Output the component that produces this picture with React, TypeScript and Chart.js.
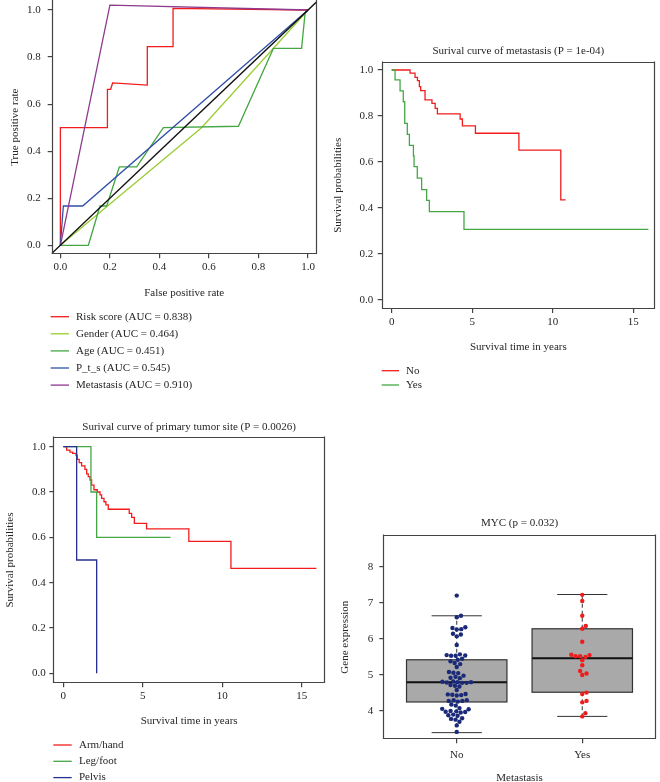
import React, { useEffect, useRef } from "react";
import { Chart, registerables } from "chart.js";

Chart.register(...registerables);

const FONT_FAMILY = "'Liberation Serif', 'DejaVu Serif', 'Times New Roman', serif";
const TEXT = "#262626";
const AXIS = "#444444";

// ---------- Panel A: ROC ----------
const rocTicks = [0, 0.2, 0.4, 0.6, 0.8, 1.0];
const riskFpr = [0, 0, 0.19, 0.19, 0.203, 0.211, 0.351, 0.351, 0.455, 0.455, 1.0];
const riskTpr = [0, 0.5, 0.5, 0.663, 0.663, 0.69, 0.681, 0.844, 0.844, 1.007, 1.0];
const genderFpr = [0, 0.57, 1.0];
const genderTpr = [0, 0.5, 1.0];
const ageFpr = [0, 0.113, 0.16, 0.187, 0.238, 0.308, 0.416, 0.719, 0.86, 0.974, 0.988, 1.0];
const ageTpr = [0, 0, 0.167, 0.167, 0.333, 0.333, 0.5, 0.506, 0.837, 0.837, 0.986, 1.0];
const ptsFpr = [0, 0.012, 0.09, 1.0];
const ptsTpr = [0, 0.167, 0.167, 1.0];
const metaFpr = [0, 0.2, 1.0];
const metaTpr = [0, 1.021, 1.0];
const diagX = [-0.1, 1.1];
const diagY = [-0.1, 1.1];
const rocLabels = [
  "Risk score (AUC = 0.838)",
  "Gender (AUC = 0.464)",
  "Age (AUC = 0.451)",
  "P_t_s (AUC = 0.545)",
  "Metastasis (AUC = 0.910)",
];

// ---------- Panel B: survival by metastasis ----------
const survTicksX = [0, 5, 10, 15];
const survTicksY = [0, 0.2, 0.4, 0.6, 0.8, 1.0];
const metNoTime = [0, 1.14, 1.45, 1.6, 1.72, 1.8, 2.07, 2.5, 2.7, 2.84, 4.25, 4.39, 5.2, 7.9, 10.5, 10.8];
const metNoSurv = [1.0, 0.986, 0.968, 0.954, 0.928, 0.91, 0.87, 0.855, 0.833, 0.809, 0.787, 0.757, 0.725, 0.652, 0.435, 0.435];
const metYesTime = [0, 0.21, 0.52, 0.72, 0.81, 0.97, 1.1, 1.35, 1.39, 1.59, 1.86, 2.17, 2.34, 4.49, 15.94];
const metYesSurv = [1.0, 0.957, 0.909, 0.862, 0.768, 0.72, 0.672, 0.626, 0.58, 0.53, 0.48, 0.433, 0.384, 0.307, 0.307];

// ---------- Panel C: survival by primary tumor site ----------
const armTime = [0, 0.21, 0.42, 0.59, 0.8, 0.88, 1.0, 1.15, 1.36, 1.47, 1.57, 1.68, 1.78, 1.93, 2.14, 2.31, 2.41, 2.56, 2.68, 2.83, 4.15, 4.3, 4.47, 5.24, 7.9, 10.55, 15.93];
const armSurv = [1.0, 0.985, 0.976, 0.97, 0.963, 0.944, 0.93, 0.915, 0.9, 0.88, 0.868, 0.853, 0.83, 0.81, 0.8, 0.787, 0.772, 0.757, 0.743, 0.724, 0.706, 0.688, 0.662, 0.637, 0.582, 0.463, 0.463];
const legTime = [0, 1.74, 2.1, 6.75];
const legSurv = [1.0, 0.8, 0.6, 0.6];
const pelvisTime = [0, 0.84, 2.1];
const pelvisSurv = [1.0, 0.5, 0.0];

// ---------- Panel D: MYC boxplot ----------
const groups = ["No", "Yes"];
const groupPositions = [1, 2];
const exprTicks = [4, 5, 6, 7, 8];
const noExpr = [7.2, 6.64, 6.6, 6.32, 6.3, 6.27, 6.26, 6.14, 6.12, 6.07, 5.83, 5.57, 5.55, 5.54, 5.53, 5.53, 5.45, 5.42, 5.38, 5.33, 5.3, 5.22, 5.08, 5.06, 5.05, 4.98, 4.95, 4.92, 4.91, 4.82, 4.81, 4.8, 4.8, 4.79, 4.78, 4.78, 4.72, 4.7, 4.68, 4.58, 4.47, 4.46, 4.45, 4.44, 4.43, 4.3, 4.3, 4.28, 4.28, 4.26, 4.18, 4.15, 4.08, 4.06, 4.05, 4.0, 3.99, 3.98, 3.97, 3.96, 3.9, 3.88, 3.87, 3.8, 3.78, 3.76, 3.7, 3.6, 3.42];
const yesExpr = [7.22, 7.05, 6.64, 6.36, 6.28, 5.92, 5.56, 5.55, 5.52, 5.52, 5.5, 5.41, 5.27, 5.11, 5.04, 5.0, 4.51, 4.47, 4.28, 4.24, 3.94, 3.85];
const boxQ1 = [4.25, 4.52];
const boxMedian = [4.8, 5.46];
const boxQ3 = [5.42, 6.28];
const whiskerLow = [3.4, 3.85];
const whiskerHigh = [6.64, 7.23];

// ---------- helpers ----------
const toXY = (xs: number[], ys: number[]) => xs.map((x, i) => ({ x, y: ys[i] }));

const font = (size = 11) => ({ family: FONT_FAMILY, size, weight: "normal" as const });

function swarmOffsets(values: number[], pxX: number, pxY: number, d: number): number[] {
  const idx = values.map((_, i) => i).sort((a, b) => values[a] - values[b]);
  const placed: { x: number; y: number }[] = [];
  const out = new Array(values.length).fill(0);
  for (const i of idx) {
    const y = values[i] * pxY;
    const cands = [0];
    for (const p of placed) {
      const dy = Math.abs(p.y - y);
      if (dy < d) {
        const dx = Math.sqrt(d * d - dy * dy);
        cands.push(p.x + dx, p.x - dx);
      }
    }
    cands.sort((a, b) => Math.abs(a) - Math.abs(b));
    let chosen = 0;
    for (const c of cands) {
      if (placed.every((p) => (p.x - c) ** 2 + (p.y - y) ** 2 >= d * d - 1e-6)) {
        chosen = c;
        break;
      }
    }
    placed.push({ x: chosen, y });
    out[i] = chosen / pxX;
  }
  return out;
}

const framePlugin = {
  id: "frame",
  afterDatasetsDraw(chart: any, _a: any, opts: any) {
    const { ctx, chartArea: a } = chart;
    const sides: string = opts.sides || "tlbr";
    const l = Math.round(a.left) + 0.5;
    const r = Math.round(a.right) - 0.5;
    const t = Math.round(a.top) + 0.5;
    const b = Math.round(a.bottom) - 0.5;
    ctx.save();
    ctx.strokeStyle = AXIS;
    ctx.lineWidth = 1.2;
    ctx.beginPath();
    if (sides.includes("t")) { ctx.moveTo(l, t); ctx.lineTo(r, t); }
    if (sides.includes("b")) { ctx.moveTo(l, b); ctx.lineTo(r, b); }
    if (sides.includes("l")) { ctx.moveTo(l, t - 1); ctx.lineTo(l, b + 0.6); }
    if (sides.includes("r")) { ctx.moveTo(r, t - 1); ctx.lineTo(r, b + 0.6); }
    ctx.stroke();
    ctx.restore();
  },
};

const legendPlugin = {
  id: "lineLegend",
  afterDraw(chart: any, _a: any, opts: any) {
    if (!opts || !opts.display) return;
    const ctx = chart.ctx;
    ctx.save();
    ctx.font = `11px ${FONT_FAMILY}`;
    ctx.textBaseline = "middle";
    ctx.textAlign = "left";
    const items = chart.data.datasets.filter((d: any) => d.label);
    items.forEach((d: any, i: number) => {
      const y = opts.y + i * opts.dy;
      ctx.strokeStyle = d.borderColor;
      ctx.lineWidth = 1.3;
      ctx.beginPath();
      ctx.moveTo(opts.x1, y);
      ctx.lineTo(opts.x2, y);
      ctx.stroke();
      ctx.fillStyle = TEXT;
      ctx.fillText(d.label, opts.textX, y);
    });
    ctx.restore();
  },
};

const boxplotPlugin = {
  id: "boxplot",
  beforeDatasetsDraw(chart: any) {
    const { ctx } = chart;
    const xs = chart.scales.x;
    const ys = chart.scales.y;
    const BOX_HALF = 0.4;
    const STAPLE_HALF = 0.2;
    groupPositions.forEach((g, i) => {
      const xl = xs.getPixelForValue(g - BOX_HALF);
      const xr = xs.getPixelForValue(g + BOX_HALF);
      const sl = xs.getPixelForValue(g - STAPLE_HALF);
      const sr = xs.getPixelForValue(g + STAPLE_HALF);
      const xc = xs.getPixelForValue(g);
      const y1 = ys.getPixelForValue(boxQ1[i]);
      const y3 = ys.getPixelForValue(boxQ3[i]);
      const ym = ys.getPixelForValue(boxMedian[i]);
      const yl = ys.getPixelForValue(whiskerLow[i]);
      const yh = ys.getPixelForValue(whiskerHigh[i]);
      ctx.save();
      ctx.strokeStyle = "#333333";
      ctx.lineWidth = 1;
      ctx.setLineDash([4, 3]);
      ctx.beginPath();
      ctx.moveTo(xc, y3); ctx.lineTo(xc, yh);
      ctx.moveTo(xc, y1); ctx.lineTo(xc, yl);
      ctx.stroke();
      ctx.setLineDash([]);
      ctx.beginPath();
      ctx.moveTo(sl, yh); ctx.lineTo(sr, yh);
      ctx.moveTo(sl, yl); ctx.lineTo(sr, yl);
      ctx.stroke();
      ctx.fillStyle = "#a9a9a9";
      ctx.fillRect(xl, y3, xr - xl, y1 - y3);
      ctx.strokeStyle = "#333333";
      ctx.lineWidth = 1.2;
      ctx.strokeRect(xl, y3, xr - xl, y1 - y3);
      ctx.strokeStyle = "#111111";
      ctx.lineWidth = 2;
      ctx.beginPath();
      ctx.moveTo(xl, ym); ctx.lineTo(xr, ym);
      ctx.stroke();
      ctx.restore();
    });
  },
};

type AxisSpec = {
  min: number;
  max: number;
  ticks: number[];
  fmt: (v: number) => string;
  title: string;
  size: number;
  tickPad: number;
  titlePad: number;
};

const zeroPad = (sc: any) => {
  sc.paddingTop = 0;
  sc.paddingBottom = 0;
  sc.paddingLeft = 0;
  sc.paddingRight = 0;
};

function xAxis(s: AxisSpec) {
  return {
    type: "linear" as const,
    position: "bottom" as const,
    min: s.min,
    max: s.max,
    afterBuildTicks: (sc: any) => { sc.ticks = s.ticks.map((v) => ({ value: v })); },
    afterFit: (sc: any) => { sc.height = s.size; zeroPad(sc); },
    ticks: { font: font(11), color: TEXT, padding: s.tickPad, maxRotation: 0, autoSkip: false, callback: (v: any) => s.fmt(Number(v)) },
    grid: { display: true, drawOnChartArea: false, drawTicks: true, tickLength: 4, color: AXIS, lineWidth: 1.2 },
    border: { display: false },
    title: { display: true, text: s.title, font: font(11), color: TEXT, padding: { top: 0, bottom: s.titlePad } },
  };
}

function yAxis(s: AxisSpec) {
  return {
    type: "linear" as const,
    position: "left" as const,
    min: s.min,
    max: s.max,
    afterBuildTicks: (sc: any) => { sc.ticks = s.ticks.map((v) => ({ value: v })); },
    afterFit: (sc: any) => { sc.width = s.size; zeroPad(sc); },
    ticks: { font: font(11), color: TEXT, padding: s.tickPad, autoSkip: false, callback: (v: any) => s.fmt(Number(v)) },
    grid: { display: true, drawOnChartArea: false, drawTicks: true, tickLength: 4, color: AXIS, lineWidth: 1.2 },
    border: { display: false },
    title: { display: true, text: s.title, font: font(11), color: TEXT, padding: { top: s.titlePad, bottom: 0 } },
  };
}

const f1 = (v: number) => v.toFixed(1);
const f0 = (v: number) => String(Math.round(v));

function line(label: string, xs: number[], ys: number[], color: string, order: number, stepped: any = false) {
  return {
    label,
    data: toXY(xs, ys),
    showLine: true,
    borderColor: color,
    backgroundColor: color,
    borderWidth: 1.3,
    pointRadius: 0,
    pointHoverRadius: 0,
    fill: false,
    tension: 0,
    stepped,
    order,
  };
}

function rocConfig(): any {
  return {
    type: "scatter",
    data: {
      datasets: [
        line(rocLabels[0], riskFpr, riskTpr, "#f21c1c", 5),
        line(rocLabels[1], genderFpr, genderTpr, "#9acd32", 4),
        line(rocLabels[2], ageFpr, ageTpr, "#44a744", 3),
        line(rocLabels[3], ptsFpr, ptsTpr, "#3050a8", 2),
        line(rocLabels[4], metaFpr, metaTpr, "#8e3a8e", 1),
        line("", diagX, diagY, "#111111", 0),
      ],
    },
    options: {
      responsive: false,
      animation: false,
      events: [],
      layout: { autoPadding: false, padding: { left: 0, top: 0, right: 13.3, bottom: 100.7 } },
      scales: {
        x: xAxis({ min: -0.035, max: 1.035, ticks: rocTicks, fmt: f1, title: "False positive rate", size: 45, tickPad: 1.8, titlePad: 0 }),
        y: yAxis({ min: -0.0383, max: 1.0426, ticks: rocTicks, fmt: f1, title: "True positive rate", size: 51.7, tickPad: 7, titlePad: 8.4 }),
      },
      plugins: {
        legend: { display: false },
        tooltip: { enabled: false },
        title: { display: false },
        frame: { sides: "lbr" },
        lineLegend: { display: true, x1: 50.7, x2: 69, textX: 76, y: 316.7, dy: 17.1 },
      },
    },
    plugins: [framePlugin, legendPlugin],
  };
}

function survConfig(opts: {
  title: string;
  datasets: any[];
  padding: any;
  titlePad: { top: number; bottom: number };
  x: [number, number];
  y: [number, number];
  xSize: number;
  ySize: number;
  xTickPad: number;
  yTickPad: number;
  yTitlePad: number;
  legend: any;
}): any {
  return {
    type: "scatter",
    data: { datasets: opts.datasets },
    options: {
      responsive: false,
      animation: false,
      events: [],
      layout: { autoPadding: false, padding: opts.padding },
      scales: {
        x: xAxis({ min: opts.x[0], max: opts.x[1], ticks: survTicksX, fmt: f0, title: "Survival time in years", size: opts.xSize, tickPad: opts.xTickPad, titlePad: 0 }),
        y: yAxis({ min: opts.y[0], max: opts.y[1], ticks: survTicksY, fmt: f1, title: "Survival probabilities", size: opts.ySize, tickPad: opts.yTickPad, titlePad: opts.yTitlePad }),
      },
      plugins: {
        legend: { display: false },
        tooltip: { enabled: false },
        title: { display: true, text: opts.title, font: font(11), color: TEXT, padding: opts.titlePad, fullSize: false },
        frame: { sides: "tlbr" },
        lineLegend: opts.legend,
      },
    },
    plugins: [framePlugin, legendPlugin],
  };
}

function metConfig() {
  return survConfig({
    title: "Surival curve of metastasis (P = 1e-04)",
    datasets: [
      line("No", metNoTime, metNoSurv, "#f21c1c", 1, "before"),
      line("Yes", metYesTime, metYesSurv, "#44a744", 0, "before"),
    ],
    padding: { left: 0, top: 0, right: 5, bottom: 46.7 },
    titlePad: { top: 44.4, bottom: 4.1 },
    x: [-0.62, 16.35],
    y: [-0.039, 1.036],
    xSize: 44.3,
    ySize: 51.7,
    xTickPad: 2.1,
    yTickPad: 4.4,
    yTitlePad: 1.7,
    legend: { display: true, x1: 51.7, x2: 69, textX: 76, y: 370.7, dy: 14.3 },
  });
}

function siteConfig() {
  return survConfig({
    title: "Surival curve of primary tumor site (P = 0.0026)",
    datasets: [
      line("Arm/hand", armTime, armSurv, "#f21c1c", 2, "before"),
      line("Leg/foot", legTime, legSurv, "#44a744", 1, "before"),
      line("Pelvis", pelvisTime, pelvisSurv, "#26318f", 0, "before"),
    ],
    padding: { left: 0, top: 0, right: 5, bottom: 54.7 },
    titlePad: { top: 20.1, bottom: 3.4 },
    x: [-0.63, 16.47],
    y: [-0.044, 1.044],
    xSize: 44,
    ySize: 53.3,
    xTickPad: 2.1,
    yTickPad: 3.6,
    yTitlePad: 3.4,
    legend: { display: true, x1: 53.3, x2: 71.7, textX: 79, y: 345, dy: 16.3 },
  });
}

function boxConfig(): any {
  return {
    type: "scatter",
    data: {
      datasets: [
        { data: noExpr.map((v) => ({ x: groupPositions[0], y: v })), pointRadius: 2.2, pointHoverRadius: 0, backgroundColor: "#1b2a78", borderWidth: 0 },
        { data: yesExpr.map((v) => ({ x: groupPositions[1], y: v })), pointRadius: 2.2, pointHoverRadius: 0, backgroundColor: "#ee1c1c", borderWidth: 0 },
      ],
    },
    options: {
      responsive: false,
      animation: false,
      events: [],
      layout: { autoPadding: false, padding: { left: 0, top: 0, right: 4.3, bottom: 15.1 } },
      scales: {
        x: xAxis({ min: 0.415, max: 2.585, ticks: groupPositions, fmt: (v) => groups[Math.round(v) - 1] ?? "", title: "Metastasis", size: 45.6, tickPad: 5.1, titlePad: 0 }),
        y: yAxis({ min: 3.215, max: 8.88, ticks: exprTicks, fmt: f0, title: "Gene expression", size: 53.3, tickPad: 6, titlePad: 8.4 }),
      },
      plugins: {
        legend: { display: false },
        tooltip: { enabled: false },
        title: { display: true, text: "MYC (p = 0.032)", font: font(11), color: TEXT, padding: { top: 116.7, bottom: 5.1 }, fullSize: false },
        frame: { sides: "tlbr" },
      },
    },
    plugins: [framePlugin, boxplotPlugin],
  };
}

function Panel(props: { make: () => any; left: number; top: number; width: number; height: number; swarm?: boolean }) {
  const ref = useRef<HTMLCanvasElement | null>(null);
  useEffect(() => {
    if (!ref.current) return;
    const chart = new Chart(ref.current, props.make());
    if (props.swarm) {
      const xs: any = chart.scales.x;
      const ys: any = chart.scales.y;
      const pxX = Math.abs(xs.getPixelForValue(1) - xs.getPixelForValue(0));
      const pxY = Math.abs(ys.getPixelForValue(1) - ys.getPixelForValue(0));
      [noExpr, yesExpr].forEach((vals, gi) => {
        const off = swarmOffsets(vals, pxX, pxY, 4.5);
        (chart.data.datasets[gi] as any).data = vals.map((v, i) => ({ x: groupPositions[gi] + off[i], y: v }));
      });
      chart.update();
    }
    return () => chart.destroy();
  }, []);
  return (
    <canvas
      ref={ref}
      width={props.width}
      height={props.height}
      style={{ position: "absolute", left: props.left, top: props.top, width: props.width, height: props.height }}
    />
  );
}

export default function App() {
  return (
    <div style={{ position: "absolute", left: 0, top: 0, width: 660, height: 782, overflow: "hidden", background: "#ffffff" }}>
      <Panel make={rocConfig} left={0} top={0} width={330} height={400} />
      <Panel make={metConfig} left={330} top={0} width={330} height={400} />
      <Panel make={siteConfig} left={0} top={400} width={330} height={382} />
      <Panel make={boxConfig} left={330} top={400} width={330} height={400} swarm />
    </div>
  );
}
